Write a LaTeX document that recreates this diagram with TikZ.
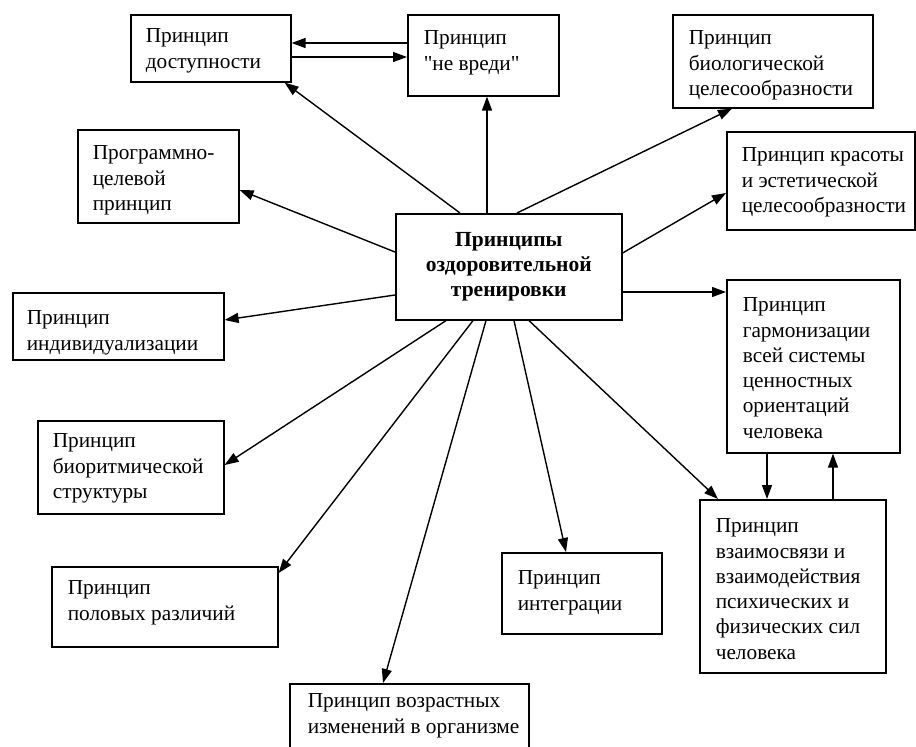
\documentclass[tikz,border=0pt]{standalone}
\usepackage{fontspec}
\setmainfont{Liberation Serif}[Ligatures=TeXOff]
\usetikzlibrary{arrows.meta}
% box content: width, height, left padding, top padding, text
\newcommand\boxtext[5]{\parbox[c][#2pt][t]{#1pt}{\vspace*{#4pt}\raggedright\leftskip=#3pt\relax #5\par}}
\begin{document}
\begin{tikzpicture}[x=1pt,y=-1pt,
  every node/.style={font=\fontsize{21.3}{25.3}\selectfont},
  box/.style={draw, line width=1.6pt, inner sep=0pt, anchor=north west},
  hub/.style={draw, line width=1.6pt, inner sep=0pt, anchor=north west,
    minimum width=226pt, minimum height=106pt, align=center,
    font=\fontsize{21.5}{25.3}\selectfont\bfseries},
  link/.style={line width=1.4pt, -{Triangle[length=14pt,width=10pt]}}]
\useasboundingbox (0,0) rectangle (916,747);
\clip (0,0) rectangle (916,747);
\fill[white] (0,0) rectangle (916,747);

% central node
\node[hub] (c) at (395,213) {Принципы\\оздоровительной\\тренировки};

% surrounding principles
\node[box] (dost) at (130,14) {\boxtext{160}{67}{15}{14}{Принцип\\доступности}};
\node[box] (nevr) at (407,14) {\boxtext{151}{81}{16}{16}{Принцип\\"не вреди"}};
\node[box] (biol) at (672,14) {\boxtext{200}{93}{16}{16}{Принцип\\биологической\\целесообразности}};
\node[box] (kras) at (726,131) {\boxtext{188}{98}{15}{16}{Принцип красоты\\и эстетической\\целесообразности}};
\node[box] (prog) at (77,129) {\boxtext{161}{93}{15}{16}{Программно-\\целевой\\принцип}};
\node[box] (indv) at (12,292) {\boxtext{211}{67}{14}{18}{Принцип\\индивидуализации}};
\node[box] (bior) at (37,420) {\boxtext{186}{93}{15}{13}{Принцип\\биоритмической\\структуры}};
\node[box] (polv) at (51,566) {\boxtext{226}{80}{16}{14}{Принцип\\половых различий}};
\node[box] (vozr) at (289,683) {\boxtext{239}{80}{18}{10}{Принцип возрастных\\изменений в организме}};
\node[box] (intg) at (501,552) {\boxtext{160}{81}{16}{18}{Принцип\\интеграции}};
\node[box] (garm) at (726,279) {\boxtext{173}{173}{16}{18}{Принцип\\гармонизации\\всей системы\\ценностных\\ориентаций\\человека}};
\node[box] (vzai) at (699,499) {\boxtext{186}{173}{16}{19}{Принцип\\взаимосвязи и\\взаимодействия\\психических и\\физических сил\\человека}};

% connectors from the central node
\draw[link] ([xshift=65pt]c.north west) -- ([xshift=-7pt]dost.south east);
\draw[link] ([xshift=92pt]c.north west) -- ([xshift=80pt]nevr.south west);
\draw[link] ([xshift=122pt]c.north west) -- ([xshift=60pt]biol.south west);
\draw[link] ([yshift=-40pt]c.north east) -- ([yshift=-62pt]kras.north west);
\draw[link] ([yshift=-79pt]c.north east) -- ([yshift=-13pt]garm.north west);
\draw[link] ([yshift=-39pt]c.north west) -- ([yshift=-61pt]prog.north east);
\draw[link] ([yshift=-82pt]c.north west) -- ([yshift=-28pt]indv.north east);
\draw[link] ([xshift=51pt]c.south west) -- ([yshift=-45pt]bior.north east);
\draw[link] ([xshift=78pt]c.south west) -- ([yshift=-7pt]polv.north east);
\draw[link] ([xshift=91pt]c.south west) -- ([xshift=94pt]vozr.north west);
\draw[link] ([xshift=119pt]c.south west) -- ([xshift=65pt]intg.north west);
\draw[link] ([xshift=134pt]c.south west) -- ([xshift=19pt]vzai.north west);

% mutual links
\draw[link] ([yshift=-29pt]nevr.north west) -- ([yshift=-29pt]dost.north east);
\draw[link] ([yshift=-43pt]dost.north east) -- ([yshift=-43pt]nevr.north west);
\draw[link] ([xshift=41pt]garm.south west) -- ([xshift=68pt]vzai.north west);
\draw[link] ([xshift=134pt]vzai.north west) -- ([xshift=107pt]garm.south west);
\end{tikzpicture}
\end{document}
